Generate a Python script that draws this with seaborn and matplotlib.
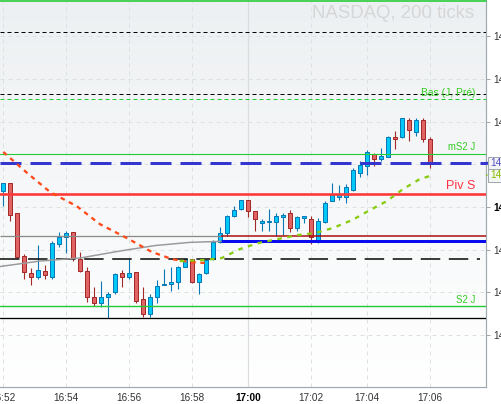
import matplotlib
matplotlib.use("Agg")
import matplotlib.pyplot as plt
import numpy as np
import pandas as pd
import seaborn as sns

# candle data (200-tick bars)
opens = [14603.75, 14605.75, 14598.5, 14588.5, 14584.5, 14583.5, 14585.0, 14583.5, 14591.25, 14593.0,
         14594.25, 14587.75, 14585.0, 14579.0, 14577.5, 14579.0, 14580.0, 14584.5, 14583.5, 14584.75,
         14578.5, 14575.0, 14579.0, 14581.75, 14582.0, 14582.5, 14586.0, 14587.75, 14582.5, 14584.5,
         14587.75, 14591.75, 14594.0, 14598.0, 14599.5, 14601.75, 14599.0, 14596.25, 14596.5, 14596.5,
         14597.75, 14598.5, 14595.0, 14597.5, 14597.25, 14592.0, 14596.5, 14601.5, 14602.25, 14602.25,
         14604.0, 14608.0, 14609.5, 14612.5, 14611.25, 14611.75, 14616.5, 14616.5, 14620.5, 14617.5,
         14620.5, 14616.0]
highs = [14605.75, 14605.75, 14598.5, 14589.0, 14585.75, 14591.0, 14586.5, 14592.0, 14594.25, 14594.5,
         14594.25, 14589.5, 14586.0, 14581.25, 14582.75, 14580.0, 14584.5, 14585.25, 14587.75, 14584.75,
         14581.25, 14579.75, 14583.0, 14585.5, 14586.0, 14586.25, 14587.75, 14587.75, 14584.5, 14587.75,
         14592.25, 14595.25, 14598.25, 14600.25, 14601.75, 14601.75, 14599.0, 14597.25, 14599.5, 14598.5,
         14598.5, 14599.25, 14598.0, 14598.0, 14598.0, 14597.5, 14601.5, 14605.75, 14605.25, 14605.5,
         14609.25, 14610.75, 14613.25, 14612.75, 14613.75, 14616.75, 14617.75, 14620.75, 14620.75, 14620.75,
         14620.75, 14616.5]
lows = [14600.25, 14596.75, 14588.0, 14583.25, 14581.75, 14583.25, 14583.25, 14583.25, 14590.75, 14589.25,
        14587.25, 14584.75, 14577.75, 14576.75, 14576.5, 14574.0, 14579.75, 14581.25, 14583.25, 14577.5,
        14574.25, 14574.25, 14577.5, 14581.75, 14580.25, 14580.75, 14586.0, 14582.25, 14579.75, 14584.25,
        14587.5, 14591.5, 14593.25, 14597.75, 14599.25, 14597.75, 14594.5, 14594.5, 14594.5, 14593.25,
        14593.5, 14594.25, 14594.5, 14596.25, 14591.25, 14591.5, 14596.25, 14601.5, 14601.75, 14601.0,
        14603.75, 14607.0, 14607.5, 14609.5, 14610.75, 14611.75, 14613.5, 14616.25, 14615.5, 14616.75,
        14615.25, 14609.25]
closes = [14605.75, 14598.25, 14588.25, 14584.75, 14583.5, 14585.25, 14584.0, 14591.5, 14593.0, 14594.0,
          14588.0, 14585.0, 14579.0, 14577.5, 14579.0, 14579.75, 14584.25, 14583.5, 14584.5, 14578.0,
          14575.0, 14579.0, 14581.5, 14582.0, 14582.5, 14586.0, 14587.75, 14582.5, 14584.25, 14587.5,
          14591.75, 14594.0, 14598.0, 14599.25, 14601.75, 14599.0, 14597.25, 14596.75, 14596.75, 14598.0,
          14598.25, 14595.0, 14597.75, 14598.0, 14593.0, 14596.75, 14601.0, 14602.75, 14603.0, 14604.75,
          14608.75, 14609.75, 14613.0, 14611.25, 14612.0, 14616.5, 14616.0, 14620.75, 14618.0, 14620.5,
          14616.0, 14610.25]

# time axis labels at bar index
tick_idx = [0, 9, 18, 27, 35, 44, 52, 61]
tick_labels = ["16:52", "16:54", "16:56", "16:58", "17:00", "17:02", "17:04", "17:06"]
price_ticks = [14570, 14580, 14590, 14600, 14610, 14620, 14630, 14640]

# moving averages (bar index, price)
ma_red_x = [0, 3.4, 6.7, 10.5, 13.8, 17.7, 21.2, 24.1, 26.7, 28.8]
ma_red_y = [14612.9, 14608.0, 14603.5, 14600.2, 14596.0, 14592.7, 14589.5, 14587.8, 14587.1, 14586.9]
ma_green_x = [25.2, 28.8, 31.2, 33.8, 36.4, 39.2, 42.1, 44.5, 47.1, 49.9, 52.4, 54.8, 57.1, 59.5, 60.9]
ma_green_y = [14587.35, 14587.6, 14588.05, 14590.15, 14591.55, 14592.5, 14593.45, 14593.9, 14595.1,
              14597.0, 14599.3, 14601.4, 14604.2, 14606.55, 14607.25]
ma_gray_x = [-0.47, 5.24, 10.96, 16.67, 21.67, 26.67, 31.1]
ma_gray_y = [14586.07, 14587.35, 14588.06, 14589.7, 14590.98, 14591.73, 14591.97]

# horizontal levels
lvl_top = 14648.3
lvl_black1 = 14641.0
lvl_black2 = 14626.5
lvl_bas = 14625.25
lvl_ms2 = 14612.5
lvl_last = 14610.25
lvl_piv = 14603.0
lvl_gray = 14593.25
lvl_blue = 14592.0
lvl_black3 = 14587.75
lvl_s2 = 14576.75
lvl_low = 14574.0
ma_last = 14607.5

df = pd.DataFrame({"o": opens, "h": highs, "l": lows, "c": closes})
df["i"] = np.arange(len(df))
df["up"] = df["c"] >= df["o"]

sns.set_style("white")
plt.rcParams["font.family"] = ["Liberation Sans", "DejaVu Sans"]

PX = 72 / 100  # points per pixel

fig = plt.figure(figsize=(5.02, 4.04), dpi=100)
ax = fig.add_axes([0, 17 / 404, 486 / 502, 387 / 404])
xmin, xmax = -0.47, 68.96
ymin, ymax = 14557.85, 14648.5
ax.set_xlim(xmin, xmax)
ax.set_ylim(ymin, ymax)

# background gradient
grad = np.linspace(0, 1, 256).reshape(-1, 1)
cmap = matplotlib.colors.LinearSegmentedColormap.from_list("bg", ["#ffffff", "#edf0f2"])
ax.imshow(grad, extent=(xmin, xmax, ymax, ymin), aspect="auto", cmap=cmap, zorder=0)
ax.set_ylim(ymin, ymax)

# grid
for t in tick_idx:
    if t == 35:
        ax.axvline(t, color="#d9dde0", lw=1 * PX * 1.2, zorder=1)
    else:
        ax.axvline(t, color="#dde1e4", lw=1 * PX, ls=(0, (4, 4)), zorder=1)
for p in price_ticks:
    ax.axhline(p, color="#dde1e4", lw=1 * PX, ls=(0, (4, 4)), zorder=1)

# candles
up_face, up_edge = "#00c8f8", "#0a78b4"
dn_face, dn_edge = "#e06464", "#a42a2a"
edges = np.where(df["up"], up_edge, dn_edge)
faces = np.where(df["up"], up_face, dn_face)
ax.vlines(df["i"], df["l"], df["h"], colors=edges, lw=1.1 * PX, zorder=3)
body_lo = np.minimum(df["o"], df["c"])
body_h = np.maximum(np.abs(df["c"] - df["o"]), 0.12)
ax.bar(df["i"], body_h, bottom=body_lo, width=0.62, color=faces, edgecolor=edges,
       linewidth=1.0 * PX, zorder=3.5)

# levels
ax.axhline(lvl_top, color="#22cc33", lw=1.6 * PX, zorder=6, clip_on=False)
ax.axhline(lvl_black1, color="black", lw=1 * PX, ls=(0, (4, 3)), zorder=4)
ax.axhline(lvl_black2, color="black", lw=1 * PX, ls=(0, (4, 3)), zorder=4)
ax.axhline(lvl_bas, color="#22cc33", lw=1 * PX, ls=(0, (4, 3)), zorder=4)
ax.axhline(lvl_ms2, color="#22cc33", lw=1.1 * PX, zorder=4)
ax.axhline(lvl_last, color="#3535d0", lw=3 * PX, ls=(0, (7, 3)), zorder=4)
ax.axhline(lvl_piv, color="#ff3838", lw=2.6 * PX, zorder=4)
ax.hlines(lvl_gray, xmin, 31.1, color="#8a8a8a", lw=1.3 * PX, zorder=4)
ax.hlines(lvl_gray, 31.1, xmax, color="#aa0a0a", lw=1.5 * PX, zorder=4)
ax.hlines(lvl_blue, 31.1, xmax, color="#0a0aee", lw=3 * PX, zorder=4)
ax.hlines(lvl_black3, xmin, 68.1, color="black", lw=1.5 * PX, ls=(0, (13, 5.7)), zorder=4)
ax.axhline(lvl_s2, color="#22cc33", lw=1.4 * PX, zorder=4)
ax.axhline(lvl_low, color="black", lw=1.3 * PX, zorder=4)

# moving averages
sns.lineplot(x=ma_gray_x, y=ma_gray_y, ax=ax, color="#9a9a9a", lw=1.5 * PX, zorder=5, sort=False)
sns.lineplot(x=ma_red_x, y=ma_red_y, ax=ax, color="#ff4a1a", lw=2.3 * PX,
             linestyle=(0, (2, 2)), zorder=5, sort=False)
sns.lineplot(x=ma_green_x, y=ma_green_y, ax=ax, color="#88cc11", lw=2.3 * PX,
             linestyle=(0, (2, 2.4)), zorder=5, sort=False)

# level labels
lx = 67.4
ax.text(lx, 14626.8, "Bas (J, Pré)", color="#33cc22", fontsize=7.4, ha="right", va="center", zorder=7)
ax.text(lx, 14614.0, "mS2 J", color="#33cc22", fontsize=6.9, ha="right", va="center", zorder=7)
ax.text(lx, 14605.0, "Piv S", color="#ff3344", fontsize=9, ha="right", va="center", zorder=7)
ax.text(lx, 14578.3, "S2 J", color="#33cc22", fontsize=6.9, ha="right", va="center", zorder=7)

ax.text(474 / 486, 1 - 13 / 387, "NASDAQ, 200 ticks", transform=ax.transAxes, color="#d6d6d6",
        fontsize=13.4, ha="right", va="center", zorder=7)

# axes styling
for s in ["top", "left"]:
    ax.spines[s].set_visible(False)
for s in ["right", "bottom"]:
    ax.spines[s].set_color("#a0a8b0")
    ax.spines[s].set_linewidth(1.2 * PX)
ax.yaxis.tick_right()
ax.set_yticks(price_ticks)
# the 14610 label sits under the last-price box
ax.set_yticklabels(["" if p == 14610 else str(p) for p in price_ticks])
ax.set_xticks(tick_idx)
ax.set_xticklabels(tick_labels)
ax.tick_params(axis="y", length=4 * PX, width=1 * PX, color="#a0a8b0", pad=3 * PX,
               labelsize=7.2, labelcolor="#333333")
ax.tick_params(axis="x", length=3 * PX, width=1 * PX, color="#a0a8b0", pad=3 * PX,
               labelsize=7.2, labelcolor="#333333")
for lab in ax.get_yticklabels():
    if lab.get_text() == "14600":
        lab.set_fontweight("bold")
        lab.set_color("black")
for lab in ax.get_xticklabels():
    if lab.get_text() == "17:00":
        lab.set_fontweight("bold")
        lab.set_color("black")

# price boxes on the axis
ax.annotate(f"{lvl_last:.2f}", xy=(1.0, lvl_last), xycoords=("axes fraction", "data"),
            xytext=(4 * PX, 0), textcoords="offset points", fontsize=7.2, color="#5050c0",
            va="center", ha="left", annotation_clip=False, zorder=8,
            bbox=dict(boxstyle="square,pad=0.15", fc="#f4f4f6", ec="#a0a8b0", lw=1 * PX),
            arrowprops=dict(arrowstyle="-", color="#3535d0", lw=3 * PX, shrinkA=0, shrinkB=0))
ax.annotate(f"{ma_last:.2f}", xy=(1.0, ma_last), xycoords=("axes fraction", "data"),
            xytext=(4 * PX, 0), textcoords="offset points", fontsize=7.2, color="#88bb00",
            va="center", ha="left", annotation_clip=False, zorder=8,
            bbox=dict(boxstyle="square,pad=0.15", fc="#f4f6f0", ec="#a0a8b0", lw=1 * PX),
            arrowprops=dict(arrowstyle="-", color="#88cc11", lw=1 * PX, shrinkA=0, shrinkB=0))

ax.set_xlabel("")
ax.set_ylabel("")
fig.savefig("out.png", dpi=100)
